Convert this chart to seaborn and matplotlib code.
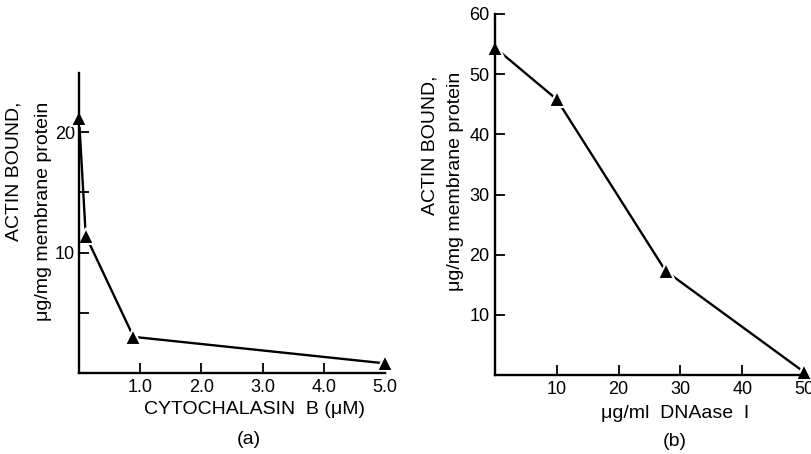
import matplotlib
matplotlib.use("Agg")
import matplotlib.pyplot as plt
import seaborn as sns
import pandas as pd

# Panel (a) data
cyto_x = [0.0, 0.11, 0.89, 5.0]
cyto_y = [21.2, 11.4, 3.0, 0.8]
cyto_xticks = [1, 2, 3, 4, 5]
cyto_xticklabels = ["1.0", "2.0", "3.0", "4.0", "5.0"]
cyto_yticks = [5, 10, 15, 20]
cyto_yticklabels = ["", "10", "", "20"]

# Panel (b) data
dnase_x = [0.0, 10.0, 27.6, 50.0]
dnase_y = [54.4, 45.8, 17.3, 0.5]
dnase_xticks = [10, 20, 30, 40, 50]
dnase_yticks = [10, 20, 30, 40, 50, 60]

sns.set_theme(style="ticks")
plt.rcParams["font.family"] = ["Liberation Sans", "DejaVu Sans"]

W, H = 811, 454
fig = plt.figure(figsize=(W / 100, H / 100), dpi=100)

def frac_axes(l, r, b, t):
    return fig.add_axes([l / W, 1 - b / H, (r - l) / W, (b - t) / H])

ax_a = frac_axes(79, 385, 373, 73)
ax_b = frac_axes(495, 804, 375, 14)

line_kw = dict(color="black", linewidth=1.7, marker="^", markersize=12,
               markerfacecolor="black", markeredgecolor="white",
               markeredgewidth=1.5, clip_on=False)

df_a = pd.DataFrame({"x": cyto_x, "y": cyto_y})
sns.lineplot(data=df_a, x="x", y="y", ax=ax_a, **line_kw)
df_b = pd.DataFrame({"x": dnase_x, "y": dnase_y})
sns.lineplot(data=df_b, x="x", y="y", ax=ax_b, **line_kw)

for ax in (ax_a, ax_b):
    ax.set_facecolor("white")
    for s in ("top", "right"):
        ax.spines[s].set_visible(False)
    for s in ("left", "bottom"):
        ax.spines[s].set_linewidth(1.7)
        ax.spines[s].set_color("black")
    ax.tick_params(direction="in", length=7, width=1.3, colors="black",
                   labelsize=13, pad=4)
    ax.set_xlabel("")
    ax.set_ylabel("")

ax_a.tick_params(axis="y", pad=3)

ax_a.set_xlim(0, 5.0)
ax_a.set_ylim(0, 24.9)
ax_a.set_xticks(cyto_xticks)
ax_a.set_xticklabels(cyto_xticklabels)
ax_a.set_yticks(cyto_yticks)
ax_a.set_yticklabels(cyto_yticklabels)

ax_b.set_xlim(0, 50)
ax_b.set_ylim(0, 60)
ax_b.set_xticks(dnase_xticks)
ax_b.set_yticks(dnase_yticks)

tk = dict(fontsize=14, color="black")
# Panel (a) labels
fig.text(14 / W, 1 - 102 / H, "ACTIN BOUND,", rotation=90, ha="center", va="top", **tk)
fig.text(44 / W, 1 - 102 / H, "\u03bcg/mg membrane protein", rotation=90, ha="center", va="top", **tk)
fig.text(254 / W, 1 - 410 / H, "CYTOCHALASIN  B (\u03bcM)", ha="center", va="center", **tk)
fig.text(249 / W, 1 - 440 / H, "(a)", ha="center", va="center", **tk)

# Panel (b) labels
fig.text(430 / W, 1 - 76 / H, "ACTIN BOUND,", rotation=90, ha="center", va="top", **tk)
fig.text(456 / W, 1 - 72 / H, "\u03bcg/mg membrane protein", rotation=90, ha="center", va="top", **tk)
fig.text(675 / W, 1 - 413 / H, "\u03bcg/ml  DNAase  I", ha="center", va="center", **tk)
fig.text(675 / W, 1 - 442 / H, "(b)", ha="center", va="center", **tk)

fig.savefig("out.png", dpi=100, facecolor="white")
